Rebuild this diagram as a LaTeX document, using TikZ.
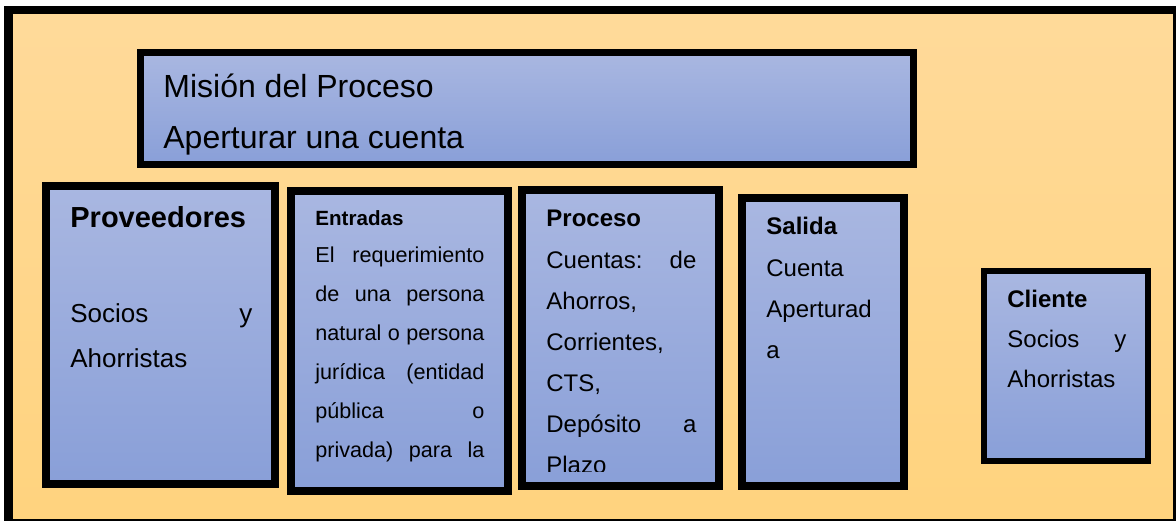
\documentclass[tikz,border=0pt]{standalone}
\usepackage{fontspec}
\setmainfont{Liberation Sans}
\usepackage{xcolor}
\usetikzlibrary{positioning}

\definecolor{sheetTop}{HTML}{FFDA9A}
\definecolor{sheetBottom}{HTML}{FFD37E}
\definecolor{boxTop}{HTML}{A9B7E1}
\definecolor{boxBottom}{HTML}{899FD8}

\begin{document}
\begin{tikzpicture}[
  x=0.5pt, y=-0.5pt,
  stage/.style={rectangle, draw=black, top color=boxTop, bottom color=boxBottom,
    inner sep=0pt, line width=4pt},
  heading/.style={anchor=base west, inner sep=0pt,
    font=\bfseries\fontsize{12}{14}\selectfont},
  mission/.style={anchor=base west, inner sep=0pt,
    font=\fontsize{16}{19}\selectfont},
  body/.style={anchor=base west, inner sep=0pt, align=left,
    font=\fontsize{12}{20.5}\selectfont}
]

% Page and frame
\useasboundingbox (0,0) rectangle (1176,520);
\clip (0,0) rectangle (1176,520);
\draw[line width=4.2pt, top color=sheetTop, bottom color=sheetBottom]
  (8.5,10) rectangle (1177,523.5);

% Mission box
\node[stage, line width=3.5pt, minimum width=386.5pt, minimum height=56pt]
  (mision) at (527,108.5) {};
\node[mission] (misionA) at (163,97) {Misión del Proceso};
\node[mission] (misionB) at (163,148) {Aperturar una cuenta};

% Stage boxes
\node[stage, minimum width=114.5pt, minimum height=149pt] (prov) at (160.5,335) {};
\node[stage, minimum width=108.5pt, minimum height=150pt] (entr) at (399.5,341) {};
\node[stage, minimum width=98.5pt, minimum height=148pt] (proc) at (620.5,338) {};
\node[stage, minimum width=81pt, minimum height=144pt] (sal) at (823,342) {};
\node[stage, line width=3pt, minimum width=82pt, minimum height=95pt]
  (cli) at (1066,366) {};

% Headings
\node[heading, font=\bfseries\fontsize{14.5}{17}\selectfont] (provH) at (70,227) {Proveedores};
\node[heading, font=\bfseries\fontsize{10.3}{12}\selectfont] (entrH) at (315,225) {Entradas};
\node[heading] (procH) at (546,226) {Proceso};
\node[heading] (salH) at (766,234) {Salida};
\node[heading] (cliH) at (1007,307) {Cliente};

% Texts
\node[body, text width=91pt, font=\fontsize{13}{22.5}\selectfont] (provB) at (70,322)
  {Socios\hfill y\\Ahorristas};
\node[body, text width=84.5pt, font=\fontsize{10.8}{19.5}\selectfont] (entrB) at (315,262)
  {El\hfill requerimiento\\de\hfill una\hfill persona\\natural\hfill o\hfill persona\\
   jurídica\hfill (entidad\\pública\hfill o\\privada)\hfill para\hfill la};
\begin{scope}
  \clip (526,194) rectangle (716,471);
  \node[body, text width=75pt] (procB) at (546,268)
    {Cuentas:\hfill de\\Ahorros,\\Corrientes,\\CTS,\\Depósito\hfill a\\Plazo};
\end{scope}
\node[body, text width=65pt] (salB) at (766,276) {Cuenta\\Aperturad\\a};
\node[body, text width=59.5pt, font=\fontsize{12}{20.25}\selectfont] (cliB) at (1007,347)
  {Socios\hfill y\\Ahorristas};

\end{tikzpicture}
\end{document}
